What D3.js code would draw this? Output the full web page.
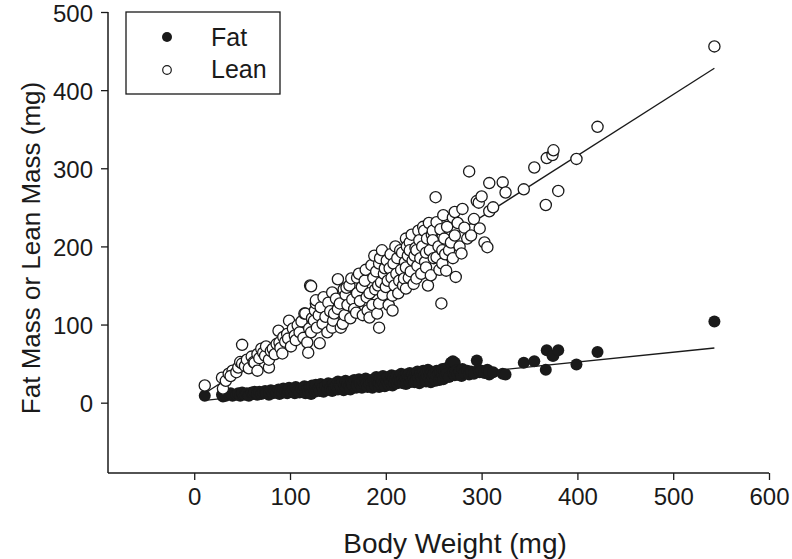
<!DOCTYPE html>
<html><head><meta charset="utf-8">
<script src="https://cdn.jsdelivr.net/npm/d3@7"></script>
<style>
body{margin:0;background:#fff;}
svg text{font-family:"Liberation Sans",Arial,sans-serif;fill:#1a1a1a;}
</style></head>
<body><svg id="c" width="792" height="559"></svg>
<script>
// Body weight (mg) vs lean mass (mg)
const leanPoints = [
[11,22],[30,18],[29,32],[33,28],[36,37],[40,41],[38,34],[44,39],[46,45],[48,52],[50,50],[50,74],[53,47],[55,55],[57,44],[60,59],[62,52],[63,51],[66,41],[66,62],
[68,57],[70,69],[72,64],[74,60],[75,72],[78,45],[78,55],[80,66],[82,69],[84,62],[86,75],[88,92],[89,77],[90,70],[92,63],[93,84],[95,78],[97,88],[98,82],[99,105],
[101,72],[103,95],[105,86],[106,80],[108,99],[110,90],[112,104],[114,83],[115,114],[116,114],[118,77],[119,64],[120,95],[121,150],[122,90],[122,149],[123,108],[125,105],[126,118],[127,127],[127,131],[128,96],[130,112],
[131,76],[132,122],[134,101],[135,135],[137,110],[139,90],[140,128],[142,117],[144,96],[144,141],[145,105],[146,114],[148,133],[150,158],[150,120],[152,127],[153,96],[155,101],[156,145],[157,112],[158,138],[159,147],[160,125],[162,150],[163,108],[164,159],[165,132],[167,120],[169,115],[170,140],[170,160],
[172,165],[173,130],[175,148],[176,112],[178,156],[179,170],[180,135],[181,118],[183,140],[183,109],[185,176],[186,125],[187,160],[188,188],[189,145],[190,168],[191,114],[192,150],[193,96],[193,127],[193,178],[194,185],[195,154],[196,195],[197,138],[198,165],[199,172],[200,148],[201,182],[202,156],[203,125],[204,172],[205,190],[206,160],[207,118],[207,137],[208,178],[209,150],[210,200],
[211,165],[212,185],[213,140],[214,156],[215,195],[216,170],[217,192],[218,150],[219,159],[220,180],[221,173],[221,146],[221,210],[222,200],[223,188],[224,160],[225,205],[225,195],[226,168],[227,215],[228,182],[229,152],[230,188],[231,198],[232,159],[232,195],[233,175],[234,220],[235,208],[236,185],[237,165],[238,200],[239,225],[240,220],[241,180],[242,192],[242,173],[243,210],[244,150],[245,230],[246,195],[247,163],[248,215],[249,220],[249,208],[250,185],
[252,263],[253,231],[253,186],[255,200],[256,170],[257,222],[258,127],[259,195],[259,178],[260,240],[261,210],[262,190],[263,169],[264,225],[266,195],[268,205],[270,237],[270,185],[272,244],[272,214],[273,161],[275,230],[277,200],[279,191],[280,248],[282,224],[285,210],[287,296],[289,214],[292,235],[295,258],[297,256],[298,223],[300,264],[303,205],[306,199],[308,245],[308,281],[312,250],[322,282],[325,269],
[344,273],[355,301],[367,253],[368,313],[374,317],[375,323],[380,271],[399,312],[421,353],[543,456]
];
// Body weight (mg) vs fat mass (mg)
const fatPoints = [
[11,9],[30,8],[29,10],[33,9],[36,11],[40,9],[38,12],[44,10],[46,12],[48,9],[50,11],[50,13],[53,10],[55,12],[57,9],[60,13],[62,11],[63,14],[66,10],[66,12],
[68,14],[70,11],[72,13],[74,15],[75,12],[78,10],[78,14],[80,16],[82,12],[84,15],[86,13],[88,17],[89,11],[90,15],[92,13],[93,18],[95,14],[97,12],[98,16],[99,19],
[101,14],[103,17],[105,12],[106,20],[108,15],[110,13],[112,18],[114,16],[115,21],[116,12],[118,17],[119,14],[120,20],[121,18],[122,15],[122,11],[123,22],[125,17],[126,14],[127,19],[127,23],[128,16],[130,18],
[131,15],[132,24],[134,19],[135,14],[137,21],[139,17],[140,25],[142,18],[144,22],[144,15],[145,24],[146,19],[148,21],[150,27],[150,17],[152,23],[153,20],[155,26],[156,16],[157,22],[158,28],[159,19],[160,24],[162,21],[163,17],[164,27],[165,23],[167,29],[169,19],[170,25],[170,22],
[172,30],[173,24],[175,19],[176,27],[178,23],[179,31],[180,25],[181,20],[183,28],[183,24],[185,26],[186,19],[187,30],[188,25],[189,22],[190,33],[191,27],[192,24],[193,20],[193,29],[193,26],[194,32],[195,23],[196,28],[197,34],[198,25],[199,21],[200,30],[201,27],[202,33],[203,23],[204,29],[205,26],[206,35],[207,22],[207,28],[208,32],[209,25],[210,30],
[211,34],[212,25],[213,29],[214,33],[215,27],[216,37],[217,30],[218,25],[219,34],[220,29],[221,36],[221,24],[221,31],[222,28],[223,35],[224,30],[225,38],[225,26],[226,32],[227,29],[228,36],[229,31],[230,26],[231,37],[232,33],[232,29],[233,40],[234,32],[235,25],[236,36],[237,33],[238,29],[239,41],[240,34],[241,30],[242,38],[242,27],[243,34],[244,42],[245,31],[246,37],[247,26],[248,39],[249,35],[249,32],[250,37],
[252,28],[253,41],[253,34],[255,37],[256,29],[257,40],[258,33],[259,36],[259,43],[260,30],[261,39],[262,34],[263,44],[264,37],[266,33],[268,51],[270,38],[270,53],[272,51],[272,35],[273,41],[275,36],[277,40],[279,34],[280,43],[282,38],[285,41],[287,36],[289,40],[292,37],[295,54],[297,42],[298,39],[300,41],[303,38],[306,42],[308,36],[308,40],[312,39],[322,37],[325,36],
[344,51],[355,53],[367,42],[368,67],[374,60],[375,60],[380,67],[399,49],[421,65],[543,104]
];
// Regression line end points [bodyWeight, mass]
const leanFit = [[11,12],[543,428]];
const fatFit  = [[11,3],[543,70]];
const xTicks = [0,100,200,300,400,500,600];
const yTicks = [0,100,200,300,400,500];
const seriesNames = ["Fat","Lean"];

const svg = d3.select("#c");
const x = d3.scaleLinear().domain([-90,600]).range([108,769]);
const y = d3.scaleLinear().domain([-90,500]).range([473,12]);
const ink = "#1a1a1a";

// axes
const xAxis = svg.append("g").attr("transform","translate(0,473)")
  .call(d3.axisBottom(x).tickValues(xTicks).tickSize(7).tickPadding(8).tickFormat(d3.format("d")));
const yAxis = svg.append("g").attr("transform","translate(108,0)")
  .call(d3.axisLeft(y).tickValues(yTicks).tickSize(7).tickPadding(8).tickFormat(d3.format("d")));
[xAxis,yAxis].forEach(a=>{
  a.select(".domain").remove();
  a.selectAll("line").attr("stroke",ink).attr("stroke-width",1.3);
  a.selectAll("text").style("font-size","24px").attr("fill",ink);
});
yAxis.selectAll("text").attr("dy","0.38em");
svg.append("line").attr("x1",x(-90)).attr("x2",x(600)).attr("y1",473).attr("y2",473).attr("stroke",ink).attr("stroke-width",1.5);
svg.append("line").attr("x1",108).attr("x2",108).attr("y1",y(-90)).attr("y2",y(500)).attr("stroke",ink).attr("stroke-width",1.5);

// titles
svg.append("text").attr("x",455).attr("y",553).attr("text-anchor","middle").style("font-size","28px").text("Body Weight (mg)");
svg.append("text").attr("transform","translate(40,248) rotate(-90)").attr("text-anchor","middle").style("font-size","26px").text("Fat Mass or Lean Mass (mg)");

// fit lines
const line = d3.line().x(d=>x(d[0])).y(d=>y(d[1]));
[leanFit,fatFit].forEach(f=>svg.append("path").attr("d",line(f)).attr("fill","none").attr("stroke",ink).attr("stroke-width",1.3));

// points
svg.append("g").selectAll("circle").data(fatPoints).join("circle")
  .attr("cx",d=>x(d[0])).attr("cy",d=>y(d[1])).attr("r",6).attr("fill",ink);
svg.append("g").selectAll("circle").data(leanPoints).join("circle")
  .attr("cx",d=>x(d[0])).attr("cy",d=>y(d[1])).attr("r",5.6).attr("fill","#fff").attr("stroke",ink).attr("stroke-width",1.3);

// legend
const lg = svg.append("g");
lg.append("rect").attr("x",126).attr("y",12).attr("width",154).attr("height",82).attr("fill","#fff").attr("stroke",ink).attr("stroke-width",1.3);
lg.append("circle").attr("cx",167).attr("cy",37).attr("r",5).attr("fill",ink);
lg.append("circle").attr("cx",167).attr("cy",70).attr("r",4.3).attr("fill","#fff").attr("stroke",ink).attr("stroke-width",1.2);
lg.append("text").attr("x",211).attr("y",46).style("font-size","25px").text(seriesNames[0]);
lg.append("text").attr("x",211).attr("y",78).style("font-size","25px").text(seriesNames[1]);
</script></body></html>
